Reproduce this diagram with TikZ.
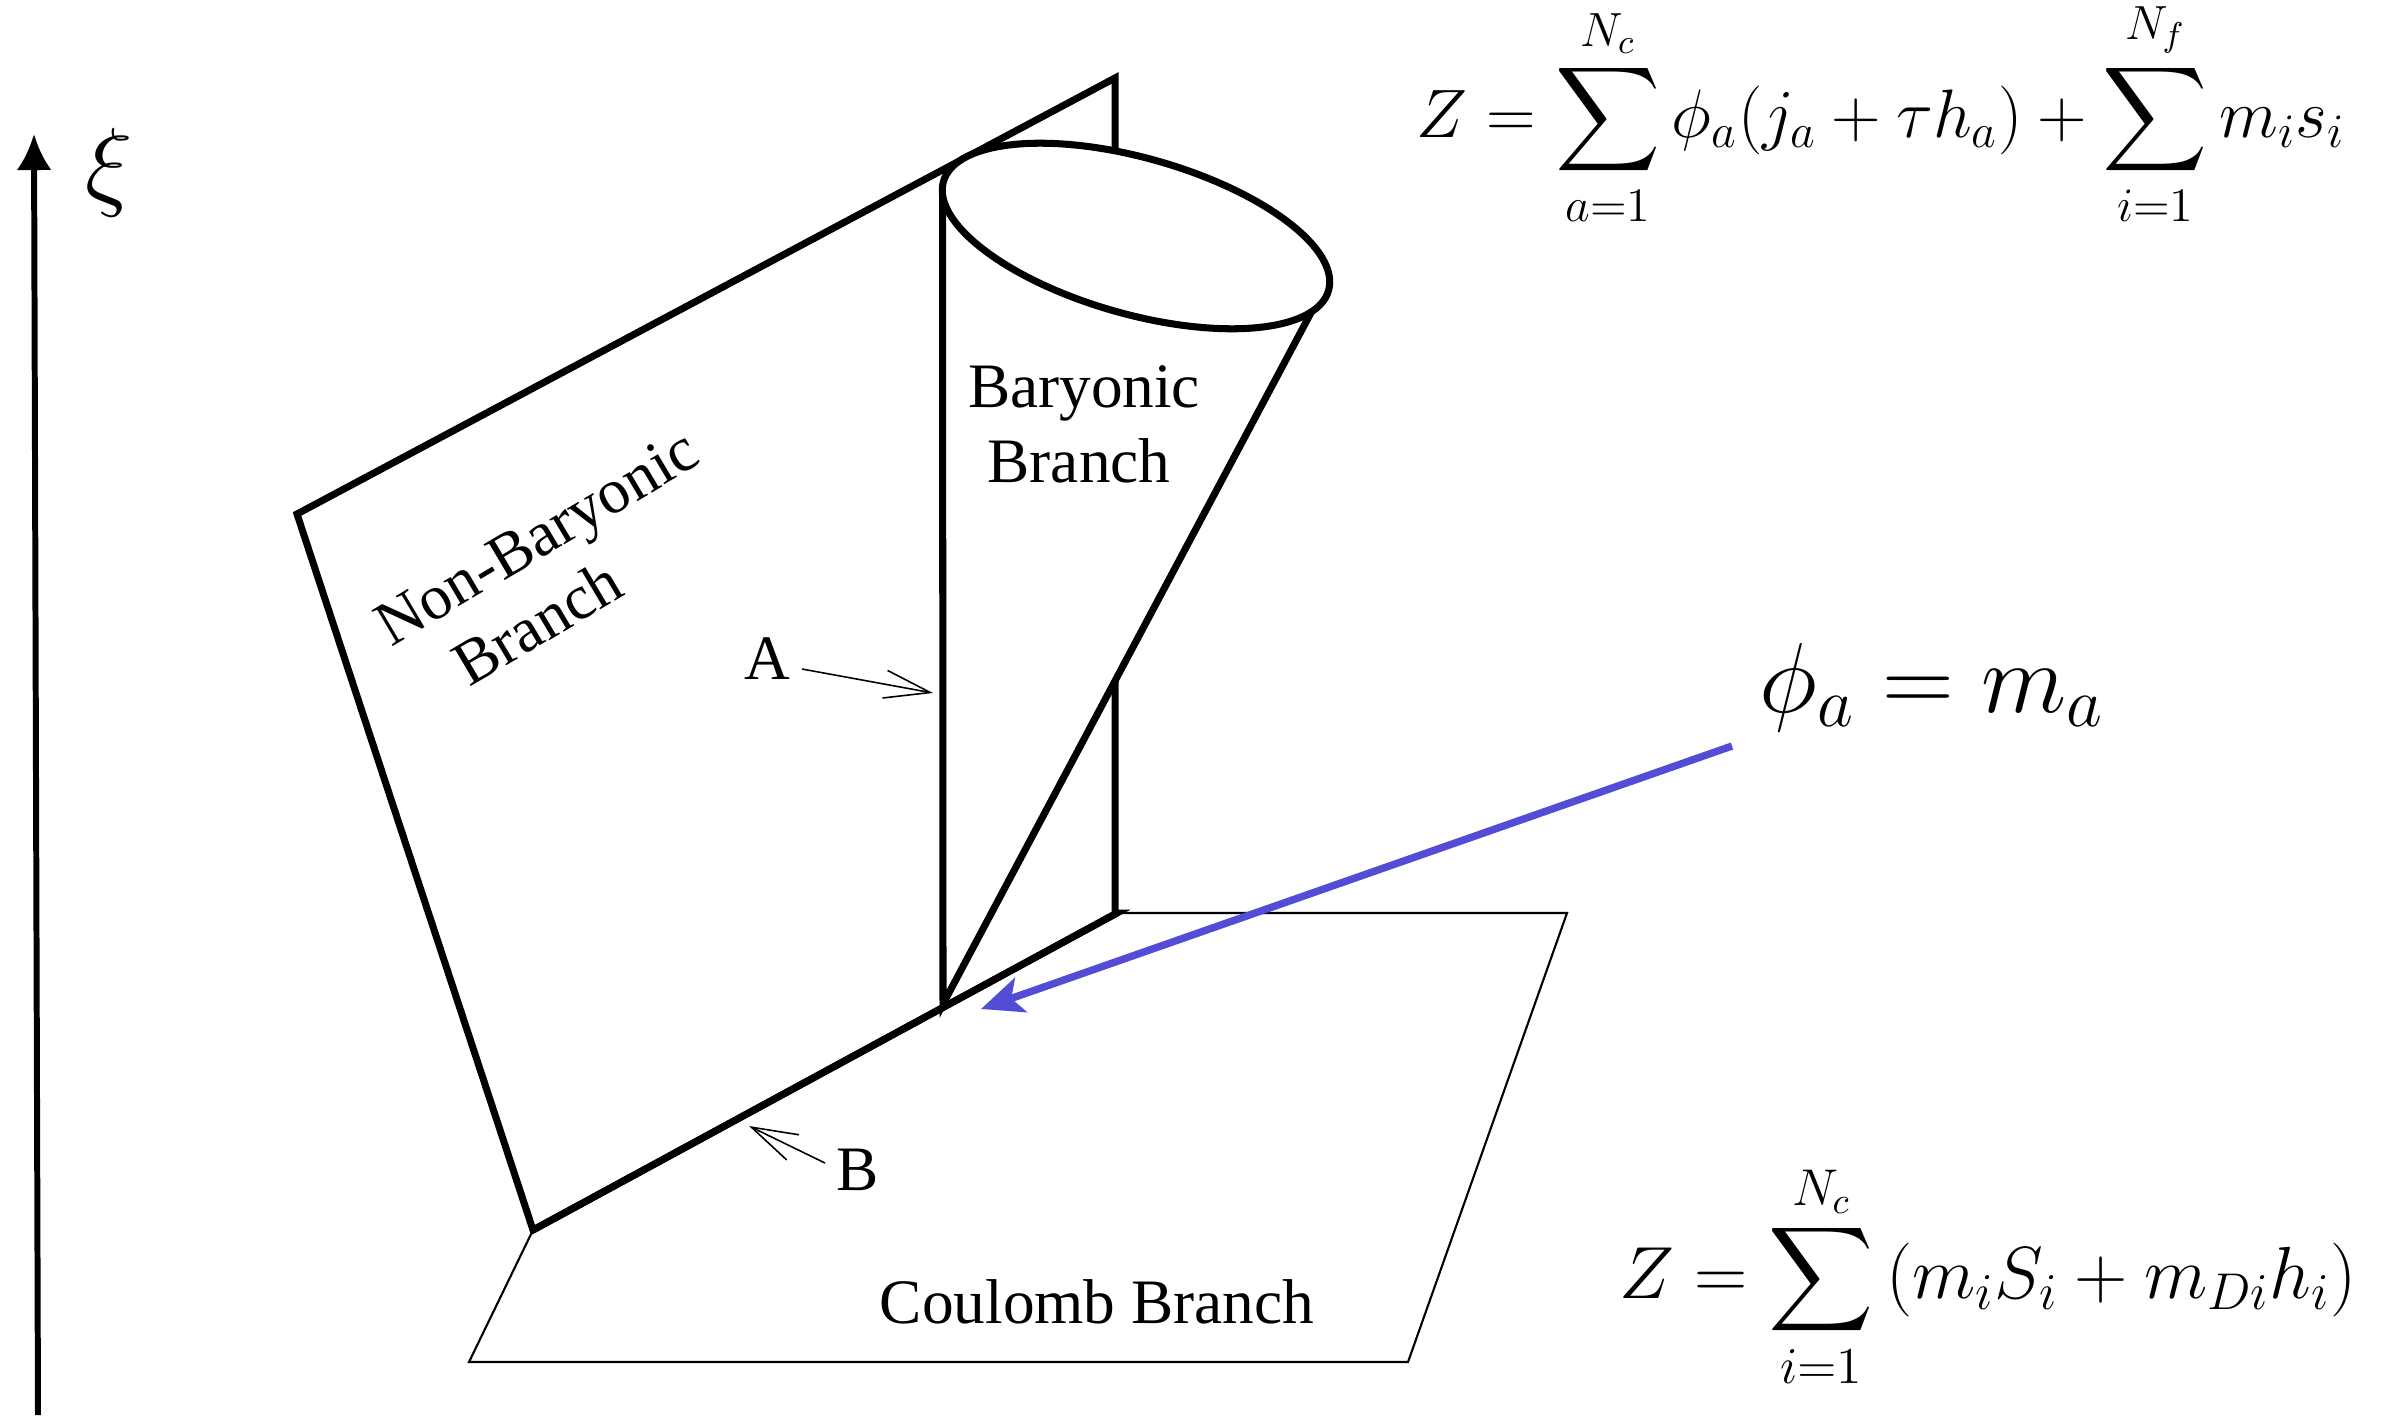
\RequirePackage{fix-cm}
\documentclass[tikz,border=0pt]{standalone}
\usepackage{exscale}
\usepackage[no-math]{fontspec}
\setmainfont{Liberation Serif}
\usetikzlibrary{arrows.meta}
\definecolor{arrowblue}{RGB}{83,76,212}
\begin{document}
\begin{tikzpicture}[x=0.01cm,y=-0.01cm,
  thickedge/.style={line width=2pt, line join=miter},
  thinedge/.style={line width=0.6pt, line join=miter},
  lbl/.style={font=\fontsize{18}{21}\selectfont, inner sep=0pt, anchor=base},
  bigmath/.style={font=\fontsize{28.3}{32}\selectfont, inner sep=0pt, anchor=base},
  formula/.style={font=\fontsize{19.5}{23}\selectfont, inner sep=0pt, anchor=base},
  barb/.style={line width=0.45pt, -{Straight Barb[length=0.46cm,width=0.28cm]}},
  ]
\useasboundingbox (0,0) rectangle (2386,1415);

% named points
\coordinate (bpTR) at (1115,78);
\coordinate (bpTL) at (297,514);
\coordinate (bpBL) at (533,1230);
\coordinate (bpBR) at (1117,913);
\coordinate (cbTR) at (1567,913);
\coordinate (cbBR) at (1408,1362);
\coordinate (cbBL) at (469,1362);
\coordinate (apex) at (943,1004);
\coordinate (tanL) at (942.5,190);
\coordinate (tanR) at (1322,292);
\coordinate (ec) at (1136,236);

% Coulomb branch plane
\draw[thinedge] (bpBL) -- (bpBR) -- (cbTR) -- (cbBR) -- (cbBL) -- cycle;

% Non-baryonic plane
\draw[thickedge] (bpBR) -- (bpBL) -- (bpTL) -- (bpTR) -- (bpTR |- bpBR) -- cycle;

% Baryonic cone
\fill[white] (apex) -- (tanL) -- (tanR) -- cycle;
\draw[thickedge] (tanL) -- (apex) -- (tanR);
\filldraw[thickedge, fill=white, rotate around={-15.8:(ec)}] (ec) ellipse [x radius=2cm, y radius=0.78cm];
\draw[thickedge] (bpBL) -- (bpBR);

% labels
\node[lbl] (bar1) at (1084,407) {Baryonic};
\node[lbl] (bar2) at (1079,482) {Branch};
\node[lbl, rotate=30.7] (nb1) at (547,555) {Non-Baryonic};
\node[lbl, rotate=30.7] (nb2) at (548,641) {Branch};
\node[lbl] (coul) at (1097,1323) {Coulomb Branch};
\node[lbl] (labA) at (767,679) {A};
\node[lbl] (labB) at (858,1190) {B};

\coordinate (aS) at (802,669);
\coordinate (aT) at (933,693);
\coordinate (bS) at (825,1163);
\coordinate (bT) at (749,1126);
\draw[barb] (aS) -- (aT);
\draw[barb] (bS) -- (bT);

% axis
\coordinate (axB) at (38,1415);
\coordinate (axT) at (34,134);
\draw[line width=1.7pt, -{Latex[length=0.36cm,width=0.35cm]}] (axB) -- (axT);
\node[bigmath] (xi) at (109,197) {$\xi$};

% formulas
\node[formula] (ztop) at (1881,137) {$\displaystyle Z=\sum_{a=1}^{N_c}\phi_a(j_a+\tau h_a)+\sum_{i=1}^{N_f}m_i s_i$};
\node[formula, font=\fontsize{21}{25}\selectfont] (zbot) at (1988,1298) {$\displaystyle Z=\sum_{i=1}^{N_c}\,(m_i S_i+m_{Di}h_i)$};
\node[bigmath] (phim) at (1932,712) {$\phi_a=m_a$};

% blue arrow
\coordinate (blS) at (1732,746);
\coordinate (blT) at (981,1009);
\draw[arrowblue, line width=2.1pt, -{Stealth[length=0.42cm,width=0.36cm,inset=0.1cm]}] (blS) -- (blT);
\end{tikzpicture}
\end{document}
